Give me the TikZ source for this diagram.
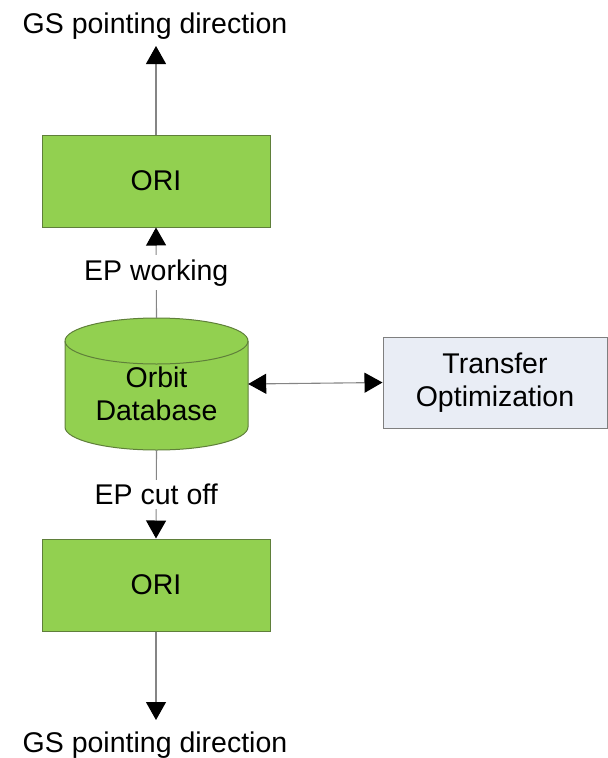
\documentclass[tikz,border=0pt]{standalone}
\usepackage{fontspec}
\setmainfont{Liberation Sans}
\usetikzlibrary{arrows.meta}
\definecolor{boxgreen}{HTML}{92D050}
\definecolor{greenedge}{HTML}{5F7F3A}
\definecolor{paleblue}{HTML}{E9EDF5}
\definecolor{edgegray}{HTML}{7F7F7F}
\definecolor{linegray}{HTML}{858585}
\tikzset{
  every node/.style={font=\fontsize{28.5}{33.5}\selectfont, text=black},
  greenbox/.style={draw=greenedge, fill=boxgreen, line width=1pt,
    minimum width=228pt, minimum height=92pt, inner sep=0pt},
  bluebox/.style={draw=edgegray, fill=paleblue, line width=1pt,
    minimum width=224pt, minimum height=91pt, inner sep=0pt, align=center},
  arr/.style={draw=linegray, line width=1.1pt,
    -{Triangle[length=18pt, width=20pt, color=black]}},
  dblarr/.style={draw=linegray, line width=1.1pt,
    {Triangle[length=18pt, width=20pt, color=black]}-{Triangle[length=18pt, width=20pt, color=black]}},
  lbl/.style={fill=white, inner xsep=2pt, inner ysep=4pt},
}
\begin{document}
\begin{tikzpicture}[x=1pt, y=1pt]
  \useasboundingbox (0,0) rectangle (608,-758);

  % boxes
  \node[greenbox] (ori1) at (156,-181) {ORI};
  \node[greenbox] (ori2) at (156,-585) {ORI};
  \node[bluebox] (tr) at (495,-382.5) {Transfer\\Optimization};

  % orbit database cylinder
  \fill[boxgreen] (65,-341) -- (65,-427) arc (180:360:91.5pt and 23pt)
     -- (248,-341) arc (0:180:91.5pt and 23pt) -- cycle;
  \draw[greenedge, line width=1pt] (65,-341) -- (65,-427) arc (180:360:91.5pt and 23pt)
     -- (248,-341) arc (0:180:91.5pt and 23pt) -- cycle;
  \draw[greenedge, line width=1pt] (65,-341) arc (180:360:91.5pt and 23pt);
  \node[minimum width=183pt, minimum height=132pt, inner sep=0pt] (db) at (156.5,-384) {};
  \node[align=center, inner sep=0pt] (dbtext) at (156.5,-394) {Orbit\\Database};

  % free ends
  \coordinate (topend) at (156,-46);
  \coordinate (botend) at (156,-720);
  \node[anchor=base] (toplbl) at (155,-33) {GS pointing direction};
  \node[anchor=base] (botlbl) at (155,-752) {GS pointing direction};

  % connectors
  \draw[arr] (ori1.north) -- (topend);
  \draw[arr] (db.north) -- node[lbl] (epw) {EP working} (ori1.south);
  \draw[arr] (db.south) -- node[lbl] (epc) {EP cut off} (ori2.north);
  \draw[arr] (ori2.south) -- (botend);
  \draw[dblarr] (db.east) -- (tr.west);
\end{tikzpicture}
\end{document}
